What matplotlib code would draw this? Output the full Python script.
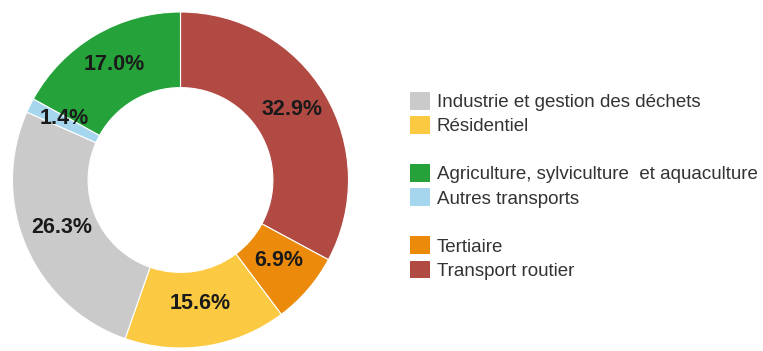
import numpy as np
import matplotlib
matplotlib.use("Agg")
import matplotlib.pyplot as plt
from matplotlib.patches import Patch

plt.rcParams['font.family'] = ['Liberation Sans', 'DejaVu Sans']

# slices, clockwise from 12 o'clock
sectors = ["Transport routier", "Tertiaire", "Résidentiel",
           "Industrie et gestion des déchets", "Autres transports",
           "Agriculture, sylviculture  et aquaculture"]
shares = [32.9, 6.9, 15.6, 26.3, 1.4, 17.0]
colors = ["#B24A44", "#EC8A0C", "#FCCA42", "#CACACA", "#A5D6EE", "#26A23A"]

# legend order, None = blank row
legend_order = ["Industrie et gestion des déchets", "Résidentiel", None,
                "Agriculture, sylviculture  et aquaculture", "Autres transports", None,
                "Tertiaire", "Transport routier"]

W, H = 763, 351
fig = plt.figure(figsize=(W / 100, H / 100), dpi=100)
ax = fig.add_axes([12.5 / W, 3 / H, 336 / W, 336 / H])

wedges, _ = ax.pie(shares, colors=colors, startangle=90, counterclock=False,
                   radius=1.0, wedgeprops=dict(width=0.45, edgecolor="white", linewidth=0.8))
ax.set_xlim(-1, 1)
ax.set_ylim(-1, 1)
ax.set_aspect("equal")

for w, v in zip(wedges, shares):
    ang = np.deg2rad((w.theta1 + w.theta2) / 2)
    r = 0.77
    ax.text(r * np.cos(ang), r * np.sin(ang) + 0.025, f"{v:.1f}%", ha="center", va="center",
            fontsize=15.5, fontweight="bold", color="#1a1a1a")

handles = []
labels = []
for name in legend_order:
    if name is None:
        handles.append(Patch(facecolor="none", edgecolor="none"))
        labels.append("")
    else:
        handles.append(Patch(facecolor=colors[sectors.index(name)], edgecolor="none"))
        labels.append(name)

fig.legend(handles, labels, loc="upper left", bbox_to_anchor=(410 / W, 1 - 92 / H),
           frameon=False, fontsize=13.5, borderpad=0, borderaxespad=0,
           handlelength=1.07, handleheight=1.07, handletextpad=0.37, labelspacing=0.26,
           labelcolor="#333333")

fig.savefig("out.png", dpi=100)
